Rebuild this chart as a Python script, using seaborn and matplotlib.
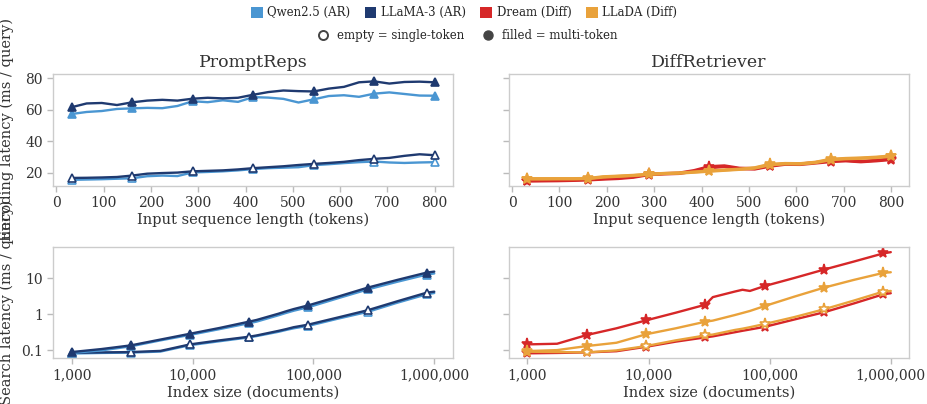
import matplotlib
matplotlib.use("Agg")
import matplotlib.pyplot as plt
from matplotlib.lines import Line2D
from matplotlib.patches import Patch
from matplotlib.ticker import FixedLocator, FuncFormatter, NullLocator
import pandas as pd
import seaborn as sns

# ---- data ----
# top row: encoding latency vs input length
SEQ_LEN = [32, 64, 96, 128, 160, 192, 224, 256, 288, 320, 352, 384, 416,
           448, 480, 512, 544, 576, 608, 640, 672, 704, 736, 768, 800]
SEQ_MARKS = [32, 160, 288, 416, 544, 672, 800]

enc_qwen_multi = [57.3, 58.6, 59.2, 60.5, 60.9, 61.2, 61.0, 62.4, 65.4, 64.8, 66.0, 65.0, 68.0,
                  67.7, 66.9, 64.6, 66.6, 68.7, 69.2, 68.2, 70.2, 71.0, 70.0, 69.0, 68.9]
enc_llama_multi = [61.6, 64.0, 64.3, 63.0, 64.7, 65.8, 66.3, 65.8, 67.0, 67.6, 67.2, 67.6, 69.5,
                   71.2, 72.2, 71.8, 71.6, 73.4, 74.5, 77.4, 78.0, 76.6, 77.6, 77.8, 77.4]
enc_qwen_single = [15.6, 15.8, 16.0, 16.3, 16.6, 17.9, 18.3, 18.0, 20.3, 20.6, 21.0, 21.6, 22.4,
                   23.0, 23.3, 23.6, 24.9, 25.5, 26.2, 26.8, 27.2, 26.6, 26.3, 26.6, 26.8]
enc_llama_single = [16.8, 16.9, 17.1, 17.4, 18.3, 19.5, 19.9, 20.2, 21.0, 21.3, 21.6, 22.2, 23.0,
                    23.6, 24.2, 25.0, 25.7, 26.3, 27.0, 28.1, 28.9, 29.5, 30.8, 31.8, 31.2]
enc_dream_multi = [15.1, 15.2, 15.3, 15.5, 15.9, 16.4, 16.8, 17.6, 19.2, 19.6, 19.9, 21.5, 24.0,
                   24.5, 23.0, 22.8, 24.6, 25.8, 25.7, 26.6, 27.6, 28.0, 27.3, 28.0, 28.9]
enc_dream_single = [14.8, 14.9, 15.0, 15.2, 15.5, 16.0, 16.4, 17.2, 18.8, 19.3, 19.6, 21.0, 23.2,
                    24.0, 22.6, 22.4, 24.2, 25.4, 25.3, 26.2, 27.1, 27.6, 27.0, 27.6, 28.4]
enc_llada_multi = [16.4, 16.4, 16.4, 16.4, 16.5, 17.6, 18.0, 18.5, 19.2, 19.7, 20.0, 20.6, 21.3,
                   21.9, 22.4, 23.3, 25.5, 26.0, 25.9, 26.8, 28.7, 29.2, 29.5, 30.0, 30.8]
enc_llada_single = [16.1, 16.1, 16.2, 16.2, 16.3, 17.3, 17.8, 18.3, 19.0, 19.5, 19.8, 20.4, 21.0,
                    21.6, 22.2, 23.0, 25.1, 25.7, 25.6, 26.5, 28.3, 28.9, 29.2, 29.7, 30.4]

# bottom row: search latency vs index size
INDEX_SIZE = [1000, 1758, 3089, 5429, 9541, 16768, 29471, 33932, 51795, 59636, 68665,
              91030, 159986, 281177, 494171, 868511, 1000000]
INDEX_MARKS = [1000, 3089, 9541, 29471, 91030, 281177, 868511]

srch_qwen_multi = [0.085, 0.10, 0.13, 0.19, 0.27, 0.39, 0.57, 0.63, 0.95, 1.10, 1.26,
                   1.58, 2.8, 4.9, 8.0, 12.7, 13.6]
srch_llama_multi = [0.090, 0.109, 0.138, 0.20, 0.29, 0.42, 0.63, 0.70, 1.05, 1.22, 1.40,
                    1.78, 3.1, 5.5, 9.0, 14.4, 15.3]
srch_qwen_single = [0.082, 0.085, 0.087, 0.093, 0.14, 0.18, 0.23, 0.25, 0.33, 0.37, 0.41,
                    0.48, 0.76, 1.17, 2.1, 3.6, 3.9]
srch_llama_single = [0.086, 0.088, 0.090, 0.097, 0.147, 0.19, 0.24, 0.26, 0.35, 0.39, 0.44,
                     0.52, 0.82, 1.3, 2.3, 4.0, 4.25]
srch_dream_multi = [0.147, 0.153, 0.267, 0.41, 0.68, 1.11, 1.85, 3.0, 4.3, 4.8, 4.45,
                    6.1, 10.2, 17.4, 29.0, 49.0, 53.0]
srch_dream_single = [0.083, 0.085, 0.088, 0.095, 0.126, 0.175, 0.23, 0.245, 0.32, 0.35, 0.38,
                     0.45, 0.72, 1.14, 2.0, 3.6, 3.85]
srch_llada_multi = [0.096, 0.102, 0.132, 0.163, 0.28, 0.41, 0.625, 0.67, 0.96, 1.09, 1.24,
                    1.70, 3.1, 5.5, 9.0, 14.1, 14.7]
srch_llada_single = [0.092, 0.090, 0.088, 0.10, 0.132, 0.19, 0.26, 0.275, 0.37, 0.40, 0.44,
                     0.54, 0.84, 1.38, 2.4, 4.27, 4.45]

MODELS = ["Qwen2.5 (AR)", "LLaMA-3 (AR)", "Dream (Diff)", "LLaDA (Diff)"]
COLORS = {"Qwen2.5 (AR)": "#4a96d2", "LLaMA-3 (AR)": "#1f3a70",
          "Dream (Diff)": "#d62728", "LLaDA (Diff)": "#e9a23b"}
MARKERS = {"Qwen2.5 (AR)": "^", "LLaMA-3 (AR)": "^", "Dream (Diff)": "*", "LLaDA (Diff)": "*"}

# ---- style ----
sns.set_theme(style="ticks", font="serif")
plt.rcParams.update({
    "axes.edgecolor": "#cccccc",
    "axes.linewidth": 1.0,
    "xtick.color": "#bbbbbb",
    "ytick.color": "#bbbbbb",
    "xtick.labelcolor": "#333333",
    "ytick.labelcolor": "#333333",
    "xtick.labelsize": 10,
    "ytick.labelsize": 10,
    "axes.labelsize": 10.5,
    "axes.labelcolor": "#333333",
    "axes.titlesize": 12.5,
    "axes.titlecolor": "#333333",
})

fig = plt.figure(figsize=(9.28, 4.04), dpi=100)
ax_tl = fig.add_axes([0.0575, 0.540, 0.4305, 0.277])
ax_tr = fig.add_axes([0.5485, 0.540, 0.4315, 0.277], sharey=ax_tl)
ax_bl = fig.add_axes([0.0575, 0.113, 0.4305, 0.275])
ax_br = fig.add_axes([0.5485, 0.113, 0.4315, 0.275], sharey=ax_bl)


def draw(ax, x, y, model, multi, marks, lw=1.7):
    df = pd.DataFrame({"x": x, "y": y})
    every = [i for i, v in enumerate(x) if v in marks]
    c = COLORS[model]
    sns.lineplot(data=df, x="x", y="y", ax=ax, color=c, lw=lw,
                 marker=MARKERS[model], markevery=every,
                 ms=8 if MARKERS[model] == "*" else 6,
                 mfc=c if multi else "white", mec=c, mew=1.2)


draw(ax_tl, SEQ_LEN, enc_qwen_single, "Qwen2.5 (AR)", False, SEQ_MARKS)
draw(ax_tl, SEQ_LEN, enc_llama_single, "LLaMA-3 (AR)", False, SEQ_MARKS)
draw(ax_tl, SEQ_LEN, enc_qwen_multi, "Qwen2.5 (AR)", True, SEQ_MARKS)
draw(ax_tl, SEQ_LEN, enc_llama_multi, "LLaMA-3 (AR)", True, SEQ_MARKS)

draw(ax_tr, SEQ_LEN, enc_dream_single, "Dream (Diff)", False, SEQ_MARKS, lw=2.2)
draw(ax_tr, SEQ_LEN, enc_dream_multi, "Dream (Diff)", True, SEQ_MARKS, lw=2.2)
draw(ax_tr, SEQ_LEN, enc_llada_single, "LLaDA (Diff)", False, SEQ_MARKS, lw=2.2)
draw(ax_tr, SEQ_LEN, enc_llada_multi, "LLaDA (Diff)", True, SEQ_MARKS, lw=2.2)

draw(ax_bl, INDEX_SIZE, srch_qwen_single, "Qwen2.5 (AR)", False, INDEX_MARKS)
draw(ax_bl, INDEX_SIZE, srch_llama_single, "LLaMA-3 (AR)", False, INDEX_MARKS)
draw(ax_bl, INDEX_SIZE, srch_qwen_multi, "Qwen2.5 (AR)", True, INDEX_MARKS)
draw(ax_bl, INDEX_SIZE, srch_llama_multi, "LLaMA-3 (AR)", True, INDEX_MARKS)

draw(ax_br, INDEX_SIZE, srch_dream_single, "Dream (Diff)", False, INDEX_MARKS)
draw(ax_br, INDEX_SIZE, srch_llada_single, "LLaDA (Diff)", False, INDEX_MARKS)
draw(ax_br, INDEX_SIZE, srch_dream_multi, "Dream (Diff)", True, INDEX_MARKS)
draw(ax_br, INDEX_SIZE, srch_llada_multi, "LLaDA (Diff)", True, INDEX_MARKS)

# ---- axes ----
for ax in (ax_tl, ax_tr):
    ax.set_xlim(-6.4, 838.4)
    ax.set_xticks(range(0, 801, 100))
    ax.set_xlabel("Input sequence length (tokens)")
ax_tl.set_ylim(11.8, 82.7)
ax_tl.set_yticks([20, 40, 60, 80])
ax_tl.set_title("PromptReps", pad=5)
ax_tr.set_title("DiffRetriever", pad=5)

comma = FuncFormatter(lambda v, p: f"{int(round(v)):,}")
plain = FuncFormatter(lambda v, p: f"{v:g}")
for ax in (ax_bl, ax_br):
    ax.set_xscale("log")
    ax.set_yscale("log")
    ax.set_xlim(10 ** 2.848, 10 ** 6.154)
    ax.xaxis.set_major_locator(FixedLocator([1e3, 1e4, 1e5, 1e6]))
    ax.xaxis.set_major_formatter(comma)
    ax.xaxis.set_minor_locator(NullLocator())
    ax.yaxis.set_minor_locator(NullLocator())
    ax.set_xlabel("Index size (documents)")
ax_bl.set_ylim(10 ** -1.22, 10 ** 1.86)
ax_bl.yaxis.set_major_locator(FixedLocator([0.1, 1, 10]))
ax_bl.yaxis.set_major_formatter(plain)
ax_bl.yaxis.set_minor_locator(NullLocator())

for ax in (ax_tl, ax_tr, ax_bl, ax_br):
    ax.tick_params(length=4, width=1)
    ax.xaxis.labelpad = 2
for ax in (ax_tr, ax_br):
    ax.tick_params(axis="y", labelleft=False)
    ax.set_ylabel("")

ax_tl.set_ylabel("Encoding latency (ms / query)")
ax_bl.set_ylabel("Search latency (ms / query)")
ax_tl.yaxis.set_label_coords(-0.098, 0.5)
ax_bl.yaxis.set_label_coords(-0.098, 0.5)

# ---- legends ----
color_handles = [Patch(facecolor=COLORS[m], edgecolor="none", label=m) for m in MODELS]
fig.legend(handles=color_handles, loc="center", bbox_to_anchor=(0.5, 0.968), ncol=4,
           frameon=False, fontsize=8.5, handlelength=1.0, handleheight=1.0,
           handletextpad=0.4, columnspacing=1.2)
mode_handles = [
    Line2D([], [], ls="none", marker="o", ms=6.5, mfc="white", mec="#444444", mew=1.4,
           label="empty = single-token"),
    Line2D([], [], ls="none", marker="o", ms=6.5, mfc="#444444", mec="#444444",
           label="filled = multi-token"),
]
fig.legend(handles=mode_handles, loc="center", bbox_to_anchor=(0.5, 0.913), ncol=2,
           frameon=False, fontsize=8.5, handletextpad=0.2, columnspacing=1.0)

fig.savefig("out.png", dpi=100)
